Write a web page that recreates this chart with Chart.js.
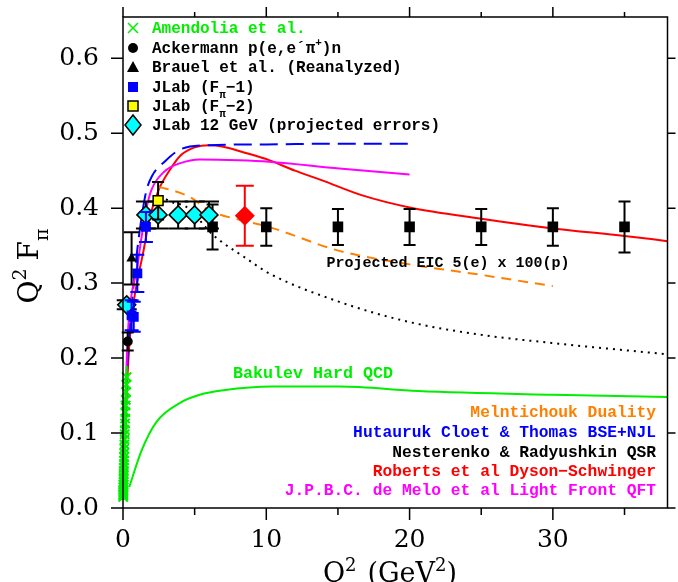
<!DOCTYPE html>
<html>
<head>
<meta charset="utf-8">
<script src="https://cdn.jsdelivr.net/npm/chart.js@4.4.0/dist/chart.umd.min.js"></script>
<style>
  html, body { margin: 0; padding: 0; background: #fff; }
  #wrap { width: 678px; height: 582px; }
</style>
</head>
<body>
<div id="wrap"><canvas id="c" width="678" height="582"></canvas></div>
<script>
// ---- data ----
const amendoliaQ2 = [0.015, 0.017, 0.019, 0.021, 0.023, 0.025, 0.029, 0.033, 0.037, 0.041, 0.045, 0.050, 0.055, 0.060, 0.066, 0.072, 0.078, 0.085, 0.093, 0.101, 0.110, 0.120, 0.130, 0.141, 0.153, 0.166, 0.180, 0.195, 0.212, 0.232, 0.253];
const amendoliaVal = [0.0146, 0.0167, 0.0182, 0.0202, 0.0223, 0.0238, 0.0276, 0.0310, 0.0344, 0.0381, 0.0414, 0.0455, 0.0495, 0.0540, 0.0587, 0.0634, 0.0679, 0.0731, 0.0791, 0.0848, 0.0913, 0.0984, 0.1040, 0.1128, 0.1193, 0.1278, 0.1368, 0.1443, 0.1548, 0.1647, 0.1746];
const amendoliaErr = [0.004, 0.004, 0.004, 0.005, 0.005, 0.005, 0.005, 0.006, 0.006, 0.006, 0.007, 0.007, 0.007, 0.008, 0.008, 0.008, 0.009, 0.009, 0.009, 0.010, 0.010, 0.011, 0.011, 0.012, 0.012, 0.012, 0.013, 0.013, 0.014, 0.014, 0.015];

const ackermannQ2 = [0.33];
const ackermannVal = [0.222];
const ackermannErr = [0.012];

const brauelQ2 = [0.60];
const brauelVal = [0.333];
const brauelErr = [0.035];

const jlab1Q2 = [0.60, 0.75, 1.00, 1.60];
const jlab1Val = [0.257, 0.255, 0.313, 0.375];
const jlab1Err = [0.020, 0.020, 0.025, 0.020];

const jlab2Q2 = [2.45];
const jlab2Val = [0.410];
const jlab2Err = [0.025];

const jlab12Q2 = [0.26, 1.60, 2.45, 3.85, 5.00, 6.00];
const jlab12Val = [0.271, 0.391, 0.391, 0.391, 0.391, 0.391];
const jlab12Err = [0.006, 0.018, 0.018, 0.018, 0.018, 0.018];

const eicQ2 = [6.25, 10, 15, 20, 25, 30, 35];
const eicVal = [0.375, 0.375, 0.375, 0.375, 0.375, 0.375, 0.375];
const eicErr = [0.030, 0.025, 0.024, 0.024, 0.024, 0.025, 0.034];

const redPointQ2 = [8.5];
const redPointVal = [0.390];
const redPointErr = [0.040];

// model curves
const cloetQ2 = [0.05, 0.2, 0.4, 0.7, 1.0, 1.4, 1.64, 2.0, 2.9, 4.07, 6.0, 10, 15, 20];
const cloetVal = [0.05, 0.15, 0.22, 0.29, 0.345, 0.40, 0.424, 0.442, 0.462, 0.479, 0.484, 0.485, 0.486, 0.486];

const robertsQ2 = [0.05, 0.1, 0.2, 0.3, 0.5, 0.75, 1.0, 1.4, 1.9, 2.5, 3.3, 4.0, 5.0, 6.0, 7.0, 8.5, 10.2, 12, 13.9, 16.7, 20, 25, 30, 35, 38];
const robertsVal = [0.03, 0.06, 0.12, 0.17, 0.232, 0.275, 0.303, 0.340, 0.390, 0.425, 0.452, 0.470, 0.481, 0.484, 0.482, 0.474, 0.464, 0.450, 0.437, 0.417, 0.401, 0.386, 0.373, 0.363, 0.356];

const deMeloQ2 = [0.1, 0.2, 0.37, 0.6, 0.95, 1.3, 1.64, 2.0, 2.9, 4.0, 5.35, 8.1, 10.2, 15.1, 20];
const deMeloVal = [0.08, 0.16, 0.242, 0.285, 0.317, 0.362, 0.400, 0.425, 0.449, 0.460, 0.465, 0.464, 0.462, 0.453, 0.445];

const melnQ2 = [2.5, 3.0, 4.65, 6.0, 8.0, 10, 15.1, 20, 25, 30];
const melnVal = [0.428, 0.426, 0.415, 0.397, 0.385, 0.376, 0.343, 0.325, 0.311, 0.296];

const nestQ2 = [3.0, 3.4, 4.4, 6.3, 8.6, 10.2, 15.1, 20, 25, 30, 38];
const nestVal = [0.412, 0.408, 0.402, 0.364, 0.333, 0.313, 0.275, 0.248, 0.231, 0.220, 0.205];

const bakulevQ2 = [0.44, 1.3, 2.34, 3.96, 5.35, 7.0, 10.4, 12, 15.1, 20.6, 30, 38];
const bakulevVal = [0.028, 0.077, 0.115, 0.140, 0.151, 0.157, 0.162, 0.162, 0.162, 0.156, 0.151, 0.148];

// axis ticks
const xTickMarks = [0, 5, 10, 15, 20, 25, 30, 35];
const yTickMarks = [0, 0.1, 0.2, 0.3, 0.4, 0.5, 0.6];

const GREEN = '#00ee00';
const ORANGE = '#ff8000';
const BLUE = '#0000ff';
const RED = '#ff0000';
const MAGENTA = '#ff00ff';
const CYAN = '#00ffff';
const YELLOW = '#ffff00';

const MONO = '"Liberation Mono", "DejaVu Sans Mono", monospace';
const SERIF = '"DejaVu Serif", "Liberation Serif", serif';

function pts(xs, ys) {
  return xs.map((v, i) => ({ x: v, y: ys[i] }));
}

function pointSet(label, xs, ys, errs, opts) {
  return Object.assign({
    label: label,
    data: pts(xs, ys),
    showLine: false,
    errs: errs,
    capW: 10,
    errColor: '#000',
    clip: 12,
    order: 0
  }, opts);
}

function curveSet(label, xs, ys, opts) {
  return Object.assign({
    label: label,
    data: pts(xs, ys),
    showLine: true,
    pointRadius: 0,
    borderWidth: 2,
    cubicInterpolationMode: 'monotone',
    fill: false,
    order: 1
  }, opts);
}

// draws text with sub / superscript pieces
function drawRich(ctx, x, y, parts, align, size, family, color, weight) {
  const w = weight ? weight + ' ' : '';
  const small = Math.round(size * 0.68);
  let total = 0;
  parts.forEach(p => {
    ctx.font = w + (p.sub || p.sup ? small : size) + 'px ' + family;
    p.w = ctx.measureText(p.t).width + (p.gap || 0);
    total += p.w;
  });
  let cx = align === 'right' ? x - total : (align === 'center' ? x - total / 2 : x);
  ctx.fillStyle = color;
  ctx.textBaseline = 'alphabetic';
  ctx.textAlign = 'left';
  parts.forEach(p => {
    ctx.font = w + (p.sub || p.sup ? small : size) + 'px ' + family;
    let dy = p.sub ? size * 0.35 : (p.sup ? -size * 0.42 : 0);
    ctx.fillText(p.t, cx, y + dy);
    cx += p.w;
  });
}

// error bars, drawn right before each marker dataset
const errorBarsPlugin = {
  id: 'errorBars',
  beforeDatasetDraw(chart, args) {
    const ds = chart.data.datasets[args.index];
    if (!ds.errs) return;
    const { ctx, scales: { x, y } } = chart;
    ctx.save();
    ctx.strokeStyle = ds.errColor;
    ctx.lineWidth = ds.errWidth || 2;
    ds.data.forEach((p, i) => {
      const e = ds.errs[i];
      const px = x.getPixelForValue(p.x);
      const top = y.getPixelForValue(p.y + e);
      const bot = y.getPixelForValue(p.y - e);
      ctx.beginPath();
      ctx.moveTo(px, top); ctx.lineTo(px, bot);
      if (ds.capW) {
        ctx.moveTo(px - ds.capW, top); ctx.lineTo(px + ds.capW, top);
        ctx.moveTo(px - ds.capW, bot); ctx.lineTo(px + ds.capW, bot);
      }
      ctx.stroke();
    });
    ctx.restore();
  }
};

// frame, outward ticks, titles, legends
const decorPlugin = {
  id: 'decor',
  afterDraw(chart) {
    const { ctx, chartArea: a, scales: { x, y } } = chart;
    ctx.save();
    ctx.strokeStyle = '#000';
    ctx.lineWidth = 1.5;
    ctx.strokeRect(a.left, a.top, a.right - a.left, a.bottom - a.top);
    ctx.beginPath();
    xTickMarks.forEach(v => {
      const px = x.getPixelForValue(v);
      const major = v % 10 === 0;
      ctx.moveTo(px, a.bottom); ctx.lineTo(px, a.bottom + (major ? 12 : 7));
      ctx.moveTo(px, a.top); ctx.lineTo(px, a.top - (major ? 10 : 5));
    });
    yTickMarks.forEach(v => {
      const py = y.getPixelForValue(v);
      ctx.moveTo(a.left, py); ctx.lineTo(a.left - 12, py);
      ctx.moveTo(a.right, py); ctx.lineTo(a.right + 8, py);
    });
    ctx.stroke();

    // axis titles
    drawRich(ctx, 390, 582, [{ t: 'Q' }, { t: '2', sup: true, gap: 11 }, { t: '(GeV' }, { t: '2', sup: true }, { t: ')' }], 'center', 27, SERIF, '#000');
    ctx.save();
    ctx.translate(38, 266);
    ctx.rotate(-Math.PI / 2);
    drawRich(ctx, 0, 0, [{ t: 'Q' }, { t: '2', sup: true, gap: 8 }, { t: 'F' }, { t: 'π', sub: true }], 'center', 28, SERIF, '#000');
    ctx.restore();

    // top-left legend
    const lx = 133, tx = 152;
    const rows = [28, 48, 67, 87, 106, 125];
    function boldText(yy, parts, color, xx, align, size) {
      drawRich(ctx, xx, yy + 5, parts, align || 'left', size || 16, MONO, color, 'bold');
    }
    boldText(rows[0], [{ t: 'Amendolia et al.' }], GREEN, tx);
    boldText(rows[1], [{ t: 'Ackermann p(e,e´π' }, { t: '+', sup: true }, { t: ')n' }], '#000', tx);
    boldText(rows[2], [{ t: 'Brauel et al. (Reanalyzed)' }], '#000', tx);
    boldText(rows[3], [{ t: 'JLab (F' }, { t: 'π', sub: true }, { t: '\u22121)' }], '#000', tx);
    boldText(rows[4], [{ t: 'JLab (F' }, { t: 'π', sub: true }, { t: '\u22122)' }], '#000', tx);
    boldText(rows[5], [{ t: 'JLab 12 GeV (projected errors)' }], '#000', tx);

    // legend symbols
    ctx.lineWidth = 1.5;
    ctx.strokeStyle = GREEN;
    ctx.beginPath();
    ctx.moveTo(lx - 5, rows[0] - 5); ctx.lineTo(lx + 5, rows[0] + 5);
    ctx.moveTo(lx + 5, rows[0] - 5); ctx.lineTo(lx - 5, rows[0] + 5);
    ctx.stroke();
    ctx.fillStyle = '#000';
    ctx.beginPath(); ctx.arc(lx, rows[1], 5, 0, Math.PI * 2); ctx.fill();
    ctx.beginPath();
    ctx.moveTo(lx, rows[2] - 6); ctx.lineTo(lx + 6, rows[2] + 5); ctx.lineTo(lx - 6, rows[2] + 5);
    ctx.closePath(); ctx.fill();
    ctx.fillStyle = BLUE;
    ctx.fillRect(lx - 5, rows[3] - 5, 10, 10);
    ctx.fillStyle = YELLOW;
    ctx.fillRect(lx - 5, rows[4] - 5, 10, 10);
    ctx.strokeStyle = '#000';
    ctx.strokeRect(lx - 5, rows[4] - 5, 10, 10);
    ctx.fillStyle = CYAN;
    ctx.beginPath();
    ctx.moveTo(lx, rows[5] - 10); ctx.lineTo(lx + 8, rows[5]); ctx.lineTo(lx, rows[5] + 10); ctx.lineTo(lx - 8, rows[5]);
    ctx.closePath(); ctx.fill(); ctx.stroke();

    // notes on the plot
    boldText(262, [{ t: 'Projected EIC 5(e) x 100(p)' }], '#000', 448, 'center', 15);
    boldText(373, [{ t: 'Bakulev Hard QCD' }], GREEN, 313, 'center', 16.7);
    const rx = 656;
    boldText(412, [{ t: 'Melntichouk Duality' }], ORANGE, rx, 'right', 16.3);
    boldText(432, [{ t: 'Hutauruk Cloet & Thomas BSE+NJL' }], BLUE, rx, 'right', 16.3);
    boldText(452, [{ t: 'Nesterenko & Radyushkin QSR' }], '#000', rx, 'right', 16.3);
    boldText(471, [{ t: 'Roberts et al Dyson\u2212Schwinger' }], RED, rx, 'right', 16.3);
    boldText(490, [{ t: 'J.P.B.C. de Melo et al Light Front QFT' }], MAGENTA, rx, 'right', 16.3);
    ctx.restore();
  }
};

const datasets = [
  // markers (order 0 -> on top of curves)
  pointSet('Amendolia et al.', amendoliaQ2, amendoliaVal, amendoliaErr, {
    pointStyle: 'crossRot', pointRadius: 6.5, borderColor: GREEN, borderWidth: 2, errColor: GREEN, capW: 0, errWidth: 2
  }),
  pointSet('Ackermann', ackermannQ2, ackermannVal, ackermannErr, {
    pointStyle: 'circle', pointRadius: 5, backgroundColor: '#000', borderColor: '#000', borderWidth: 0, capW: 6
  }),
  pointSet('Brauel', brauelQ2, brauelVal, brauelErr, {
    pointStyle: 'triangle', pointRadius: 6, backgroundColor: '#000', borderColor: '#000', borderWidth: 0, capW: 8
  }),
  pointSet('JLab Fpi-1', jlab1Q2, jlab1Val, jlab1Err, {
    pointStyle: 'rect', pointRadius: 7, backgroundColor: BLUE, borderColor: BLUE, borderWidth: 0, errColor: BLUE, capW: 7
  }),
  pointSet('JLab Fpi-2', jlab2Q2, jlab2Val, jlab2Err, {
    pointStyle: 'rect', pointRadius: 7, backgroundColor: YELLOW, borderColor: '#000', borderWidth: 1.5, capW: 6
  }),
  pointSet('JLab 12 GeV', jlab12Q2, jlab12Val, jlab12Err, {
    pointStyle: 'rectRot', pointRadius: 9, backgroundColor: CYAN, borderColor: '#000', borderWidth: 1.5, capW: 10
  }),
  pointSet('EIC', eicQ2, eicVal, eicErr, {
    pointStyle: 'rect', pointRadius: 7.5, backgroundColor: '#000', borderColor: '#000', borderWidth: 0, capW: 6
  }),
  pointSet('EIC red', redPointQ2, redPointVal, redPointErr, {
    pointStyle: 'rectRot', pointRadius: 10, backgroundColor: RED, borderColor: RED, borderWidth: 0, errColor: RED, capW: 9
  }),
  // curves
  curveSet('Bakulev Hard QCD', bakulevQ2, bakulevVal, { borderColor: GREEN }),
  curveSet('Nesterenko & Radyushkin QSR', nestQ2, nestVal, { borderColor: '#000', borderDash: [2, 5] }),
  curveSet('Melntichouk Duality', melnQ2, melnVal, { borderColor: ORANGE, borderDash: [10, 7] }),
  curveSet('J.P.B.C. de Melo', deMeloQ2, deMeloVal, { borderColor: MAGENTA }),
  curveSet('Hutauruk Cloet & Thomas', cloetQ2, cloetVal, { borderColor: BLUE, borderDash: [18, 8] }),
  curveSet('Roberts et al', robertsQ2, robertsVal, { borderColor: RED })
];

const chart = new Chart(document.getElementById('c'), {
  type: 'scatter',
  data: { datasets: datasets },
  options: {
    responsive: false,
    animation: false,
    events: [],
    layout: { padding: { top: 17, right: 6, left: 0, bottom: 0 } },
    scales: {
      x: {
        type: 'linear', min: 0, max: 38,
        grid: { display: false }, border: { display: false },
        afterFit: s => { s.height = 74; s.paddingLeft = 0; s.paddingRight = 0; },
        ticks: {
          stepSize: 10, includeBounds: false, padding: 9, color: '#000',
          font: { family: SERIF, size: 25 }, maxRotation: 0,
          callback: v => String(v)
        }
      },
      y: {
        type: 'linear', min: 0, max: 0.655,
        grid: { display: false }, border: { display: false },
        afterFit: s => { s.width = 123; s.paddingTop = 0; s.paddingBottom = 0; },
        ticks: {
          stepSize: 0.1, includeBounds: false, padding: 16, color: '#000',
          font: { family: SERIF, size: 25 },
          callback: v => v.toFixed(1)
        }
      }
    },
    plugins: { legend: { display: false }, tooltip: { enabled: false } }
  },
  plugins: [errorBarsPlugin, decorPlugin]
});
</script>
</body>
</html>
